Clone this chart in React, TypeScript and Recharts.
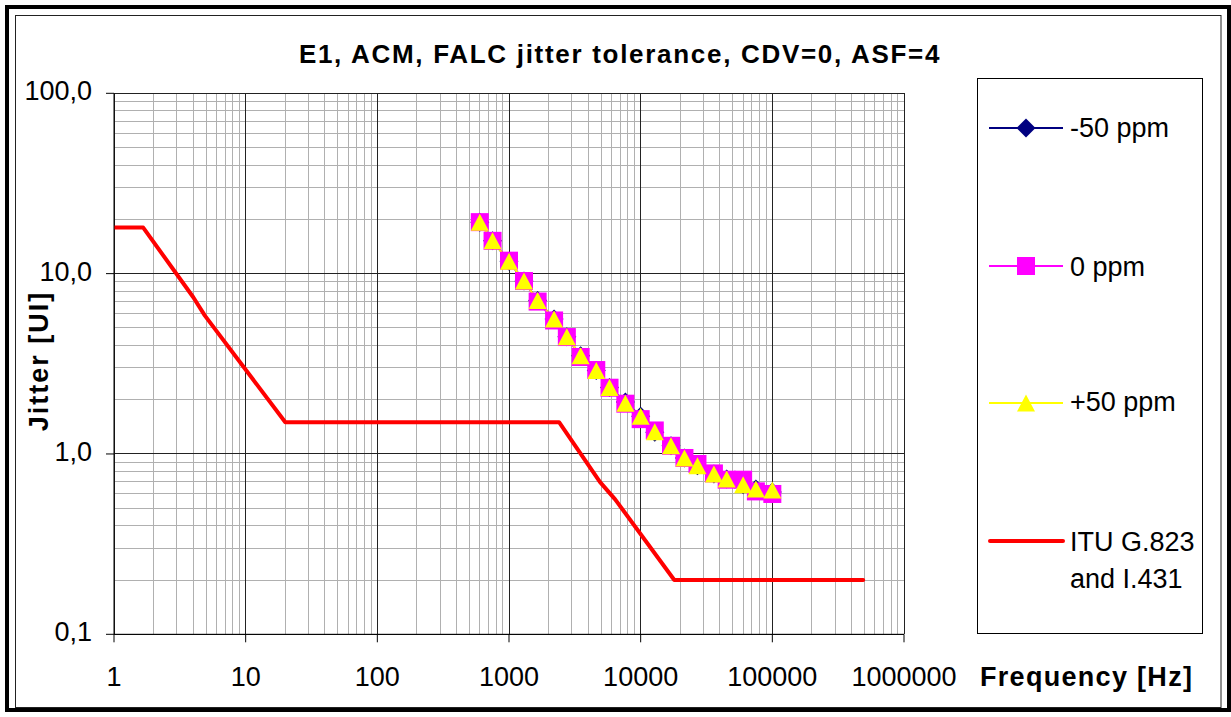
import React from 'react';
import { ComposedChart, Line, XAxis, YAxis, ReferenceLine, Customized } from 'recharts';

const FONT = '"Liberation Sans", Arial, Helvetica, sans-serif';

// ---- data ----
const freqHz = [600, 750, 1000, 1300, 1650, 2200, 2750, 3500, 4600, 5800, 7650, 10000, 12800, 17000, 21500, 27000, 36000, 45000, 60000, 75000, 100000];
const jitterMinus50 = [19.3, 15.2, 11.7, 9.1, 7.1, 5.6, 4.47, 3.5, 2.9, 2.34, 1.94, 1.62, 1.32, 1.11, 0.95, 0.86, 0.774, 0.726, 0.676, 0.64, 0.615];
const jitterZero = [19.3, 15.2, 11.8, 9.1, 7.0, 5.5, 4.45, 3.45, 2.92, 2.33, 1.9, 1.56, 1.35, 1.11, 0.95, 0.88, 0.78, 0.72, 0.72, 0.62, 0.6];
const jitterPlus50 = [19.3, 15.2, 11.7, 9.1, 7.1, 5.6, 4.47, 3.5, 2.9, 2.34, 1.91, 1.62, 1.33, 1.11, 0.95, 0.86, 0.774, 0.726, 0.676, 0.64, 0.631];

const maskFreqHz = [1, 1.667, 4, 4.9, 20, 2400, 4900, 6400, 18000, 490000];
const maskJitter = [18, 18, 7.4, 5.85, 1.5, 1.5, 0.7, 0.56, 0.2, 0.2];

const xTicks = [1, 10, 100, 1000, 10000, 100000, 1000000];
const yTicks = [0.1, 1, 10, 100];
const yTickLabels = ['0,1', '1,0', '10,0', '100,0'];
const minorSteps = [2, 3, 4, 5, 6, 7, 8, 9];

const seriesNames = ['-50 ppm', '0 ppm', '+50 ppm'];
const maskName = ['ITU G.823', 'and I.431'];
const title = 'E1, ACM, FALC jitter tolerance, CDV=0, ASF=4';
const xTitle = 'Frequency [Hz]';
const yTitle = 'Jitter [UI]';

// ---- tables built from the arrays ----
const seriesData = freqHz.map((f, i) => ({ f, m50: jitterMinus50[i], z: jitterZero[i], p50: jitterPlus50[i] }));
const maskData = maskFreqHz.map((f, i) => ({ f, mask: maskJitter[i] }));

const xMinor: number[] = [];
xTicks.slice(0, -1).forEach((d) => minorSteps.forEach((m) => xMinor.push(d * m)));
const yMinor: number[] = [];
yTicks.slice(0, -1).forEach((d) => minorSteps.forEach((m) => yMinor.push(d * m)));

const NAVY = '#000080';
const MAGENTA = '#FF00FF';
const YELLOW = '#FFFF00';
const RED = '#FF0000';

const diamondPath = (cx: number, cy: number, r: number) => `M${cx},${cy - r}L${cx + r},${cy}L${cx},${cy + r}L${cx - r},${cy}Z`;
const trianglePath = (cx: number, cy: number, w: number, h: number) =>
  `M${cx},${cy - h / 2}L${cx + w / 2},${cy + h / 2}L${cx - w / 2},${cy + h / 2}Z`;

const DiamondDot = (props: any) => {
  const { cx, cy, index } = props;
  if (cx == null || cy == null) return <g key={`dm-${index}`} />;
  return <path key={`dm-${index}`} d={diamondPath(cx, cy, 9.5)} fill={NAVY} />;
};
const SquareDot = (props: any) => {
  const { cx, cy, index } = props;
  if (cx == null || cy == null) return <g key={`sq-${index}`} />;
  return <rect key={`sq-${index}`} x={cx - 9} y={cy - 9} width={18} height={18} fill={MAGENTA} />;
};
const TriangleDot = (props: any) => {
  const { cx, cy, index } = props;
  if (cx == null || cy == null) return <g key={`tr-${index}`} />;
  return <path key={`tr-${index}`} d={trianglePath(cx, cy, 18, 17)} fill={YELLOW} />;
};

const XTick = (props: any) => {
  const { x, y, payload } = props;
  return (
    <text x={x} y={y + 19} textAnchor="middle" fontSize={27} fontFamily={FONT} fill="#000">
      {String(payload.value)}
    </text>
  );
};
const YTick = (props: any) => {
  const { x, y, payload } = props;
  const idx = yTicks.findIndex((t) => Math.abs(t - payload.value) < 1e-9);
  return (
    <text x={x} y={y + 7} textAnchor="end" fontSize={27} fontFamily={FONT} fill="#000">
      {idx >= 0 ? yTickLabels[idx] : String(payload.value)}
    </text>
  );
};

const Decorations = () => (
  <g>
    {/* frame */}
    <rect x={7} y={7} width={1222} height={703} fill="none" stroke="#000" strokeWidth={4} />
    <rect x={15.5} y={15.5} width={1205.5} height={692} fill="none" stroke="#222" strokeWidth={1} />
    {/* title */}
    <text x={620} y={63.3} textAnchor="middle" fontSize={26} fontWeight="bold" fontFamily={FONT} letterSpacing={1.7} fill="#000">
      {title}
    </text>
    {/* axis titles */}
    <text transform="translate(48,361) rotate(-90)" textAnchor="middle" fontSize={27} fontWeight="bold" fontFamily={FONT} letterSpacing={2} fill="#000">
      {yTitle}
    </text>
    <text x={980} y={686} fontSize={27} fontWeight="bold" fontFamily={FONT} letterSpacing={1.3} fill="#000">
      {xTitle}
    </text>
    {/* legend */}
    <rect x={977.5} y={78.5} width={225} height={555} fill="#fff" stroke="#000" strokeWidth={1} />
    <line x1={989} x2={1063} y1={128} y2={128} stroke={NAVY} strokeWidth={2} />
    <path d={diamondPath(1026, 128, 9.5)} fill={NAVY} />
    <text x={1070} y={136.5} fontSize={27} fontFamily={FONT} fill="#000">{seriesNames[0]}</text>

    <line x1={989} x2={1063} y1={266} y2={266} stroke={MAGENTA} strokeWidth={2} />
    <rect x={1017} y={257} width={18} height={18} fill={MAGENTA} />
    <text x={1070} y={275.5} fontSize={27} fontFamily={FONT} fill="#000">{seriesNames[1]}</text>

    <line x1={989} x2={1063} y1={403} y2={403} stroke={YELLOW} strokeWidth={2} />
    <path d={trianglePath(1026, 403, 18, 17)} fill={YELLOW} />
    <text x={1070} y={411} fontSize={27} fontFamily={FONT} fill="#000">{seriesNames[2]}</text>

    <line x1={990} x2={1063} y1={541} y2={541} stroke={RED} strokeWidth={4} strokeLinecap="round" />
    <text x={1070} y={550.5} fontSize={27} fontFamily={FONT} fill="#000">{maskName[0]}</text>
    <text x={1070} y={588} fontSize={27} fontFamily={FONT} fill="#000">{maskName[1]}</text>
  </g>
);

export default function App() {
  return (
    <div style={{ position: 'absolute', left: 0, top: 0, width: 1231, height: 717, background: '#fff' }}>
      <ComposedChart width={1231} height={717} margin={{ top: 93.3, right: 327, bottom: 22.7, left: 14 }}>
        <XAxis
          xAxisId={0}
          dataKey="f"
          type="number"
          scale="log"
          domain={[1, 1000000]}
          ticks={xTicks}
          interval={0}
          allowDataOverflow
          height={60}
          tickSize={8}
          tickMargin={24.5}
          axisLine={{ stroke: '#000' }}
          tickLine={{ stroke: '#000' }}
          tick={<XTick />}
        />
        <YAxis
          yAxisId={0}
          type="number"
          scale="log"
          domain={[0.1, 100]}
          ticks={yTicks}
          interval={0}
          allowDataOverflow
          width={100}
          tickSize={8}
          tickMargin={14}
          axisLine={{ stroke: '#000' }}
          tickLine={{ stroke: '#000' }}
          tick={<YTick />}
        />
        {xMinor.map((v) => (
          <ReferenceLine key={`xm${v}`} x={v} stroke="#b0b0b0" strokeWidth={1} shapeRendering="crispEdges" zIndex={-100} />
        ))}
        {yMinor.map((v) => (
          <ReferenceLine key={`ym${v}`} y={v} stroke="#b0b0b0" strokeWidth={1} shapeRendering="crispEdges" zIndex={-100} />
        ))}
        {xTicks.map((v) => (
          <ReferenceLine key={`xM${v}`} x={v} stroke="#222" strokeWidth={1} shapeRendering="crispEdges" zIndex={-90} />
        ))}
        {yTicks.map((v) => (
          <ReferenceLine key={`yM${v}`} y={v} stroke="#222" strokeWidth={1} shapeRendering="crispEdges" zIndex={-90} />
        ))}
        <Line data={seriesData} dataKey="m50" name={seriesNames[0]} stroke={NAVY} strokeWidth={2} dot={DiamondDot} activeDot={false} isAnimationActive={false} />
        <Line data={seriesData} dataKey="z" name={seriesNames[1]} stroke={MAGENTA} strokeWidth={2} dot={SquareDot} activeDot={false} isAnimationActive={false} />
        <Line data={seriesData} dataKey="p50" name={seriesNames[2]} stroke={YELLOW} strokeWidth={2} dot={TriangleDot} activeDot={false} isAnimationActive={false} />
        <Line data={maskData} dataKey="mask" name={maskName.join(' ')} stroke={RED} strokeWidth={4} strokeLinejoin="round" strokeLinecap="round" dot={false} activeDot={false} isAnimationActive={false} />
        <Customized component={Decorations} />
      </ComposedChart>
    </div>
  );
}
